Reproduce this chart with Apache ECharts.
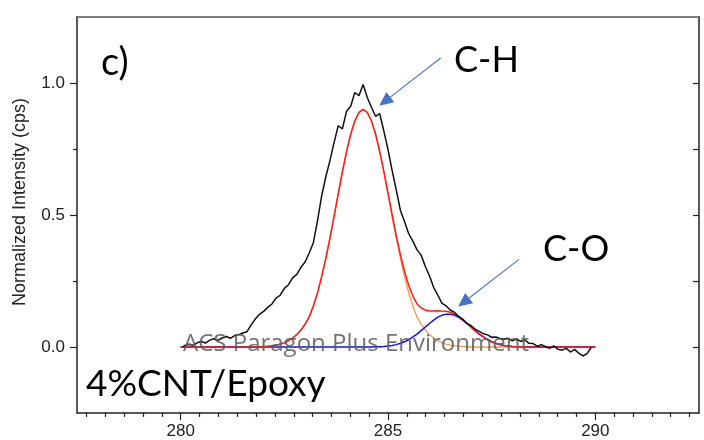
<!DOCTYPE html>
<html>
<head>
<meta charset="utf-8">
<script src="https://cdn.jsdelivr.net/npm/echarts@6/dist/echarts.min.js"></script>
<style>
  html, body { margin: 0; padding: 0; background: #fff; }
  #chart { width: 704px; height: 440px; }
</style>
</head>
<body>
<div id="chart"></div>
<script>
// C 1s region of 4%CNT/Epoxy: measured scan (binding energy, normalized counts)
const scanEnergy = [
  280.05, 280.1, 280.2, 280.3, 280.4, 280.5, 280.6, 280.7, 280.8, 280.9,
  281.0, 281.1, 281.2, 281.3, 281.4, 281.5, 281.6, 281.7, 281.8, 281.9,
  282.0, 282.1, 282.2, 282.3, 282.4, 282.5, 282.6, 282.7, 282.8, 282.9,
  283.0, 283.1, 283.2, 283.3, 283.4, 283.5, 283.6, 283.7, 283.8, 283.9,
  284.0, 284.1, 284.2, 284.3, 284.4, 284.5, 284.6, 284.7, 284.8, 284.9,
  285.0, 285.1, 285.2, 285.3, 285.4, 285.5, 285.6, 285.7, 285.8, 285.9,
  286.0, 286.1, 286.2, 286.3, 286.4, 286.5, 286.6, 286.7, 286.8, 286.9,
  287.0, 287.1, 287.2, 287.3, 287.4, 287.5, 287.6, 287.7, 287.8, 287.9,
  288.0, 288.1, 288.2, 288.3, 288.4, 288.5, 288.6, 288.7, 288.8, 288.9,
  289.0, 289.1, 289.2, 289.3, 289.4, 289.5, 289.6, 289.7, 289.8, 289.9
];
const scanIntensity = [
  0.000, 0.006, 0.011, 0.007, 0.016, 0.021, 0.015, 0.026, 0.031, 0.025,
  0.034, 0.040, 0.033, 0.043, 0.047, 0.053, 0.058, 0.084, 0.106, 0.124,
  0.135, 0.150, 0.163, 0.185, 0.196, 0.222, 0.236, 0.262, 0.275, 0.302,
  0.322, 0.356, 0.395, 0.478, 0.572, 0.645, 0.706, 0.775, 0.838, 0.826,
  0.893, 0.912, 0.964, 0.952, 0.994, 0.945, 0.908, 0.874, 0.884, 0.818,
  0.748, 0.668, 0.594, 0.517, 0.474, 0.429, 0.401, 0.368, 0.348, 0.305,
  0.270, 0.226, 0.197, 0.166, 0.156, 0.140, 0.132, 0.116, 0.106, 0.090,
  0.081, 0.068, 0.059, 0.050, 0.046, 0.037, 0.038, 0.032, 0.029, 0.033,
  0.023, 0.031, 0.021, 0.027, 0.014, 0.013, 0.003, 0.009, 0.001, -0.005,
  0.004, -0.009, -0.012, -0.005, -0.019, -0.009, -0.023, -0.034, -0.025, -0.002
];

// Peak-fit curves sampled on one shared energy grid
const fitEnergy = [
  280.0, 280.5, 281.0, 281.5, 281.8,
  282.0, 282.1, 282.2, 282.3, 282.4, 282.5, 282.6, 282.7, 282.8, 282.9,
  283.0, 283.1, 283.2, 283.3, 283.4, 283.5, 283.6, 283.7, 283.8, 283.9,
  284.0, 284.1, 284.2, 284.3, 284.4, 284.5, 284.6, 284.7, 284.8, 284.9,
  285.0, 285.1, 285.2, 285.3, 285.4, 285.5, 285.6, 285.7, 285.8, 285.9,
  286.0, 286.1, 286.2, 286.3, 286.4, 286.5, 286.6, 286.7, 286.8, 286.9,
  287.0, 287.1, 287.2, 287.3, 287.4, 287.5, 287.6, 287.7, 287.8, 287.9,
  288.0, 288.5, 289.0, 289.5, 290.0
];
const fitCH = [
  0, 0, 0, 0, 0.001,
  0.002, 0.003, 0.005, 0.007, 0.011, 0.016, 0.024, 0.034, 0.047, 0.064,
  0.086, 0.114, 0.155, 0.205, 0.266, 0.335, 0.412, 0.495, 0.580, 0.663,
  0.740, 0.806, 0.857, 0.889, 0.900, 0.889, 0.857, 0.806, 0.740, 0.663,
  0.580, 0.495, 0.412, 0.335, 0.266, 0.205, 0.155, 0.114, 0.086, 0.064,
  0.047, 0.034, 0.024, 0.016, 0.011, 0.007, 0.005, 0.003, 0.002, 0.001,
  0, 0, 0, 0, 0, 0, 0, 0, 0, 0,
  0, 0, 0, 0, 0
];
const fitCO = [
  0, 0, 0, 0, 0,
  0, 0, 0, 0, 0, 0, 0, 0, 0, 0,
  0, 0, 0, 0, 0, 0, 0, 0, 0, 0,
  0, 0, 0, 0, 0, 0, 0, 0.001, 0.001, 0.002,
  0.004, 0.006, 0.009, 0.014, 0.020, 0.028, 0.038, 0.049, 0.062, 0.076,
  0.089, 0.102, 0.113, 0.120, 0.1245, 0.1245, 0.120, 0.113, 0.102, 0.089,
  0.076, 0.062, 0.049, 0.038, 0.028, 0.020, 0.014, 0.009, 0.006, 0.004,
  0.002, 0, 0, 0, 0
];
const fitEnvelope = [
  0, 0, 0, 0, 0.001,
  0.002, 0.003, 0.005, 0.007, 0.011, 0.016, 0.024, 0.034, 0.047, 0.064,
  0.086, 0.114, 0.155, 0.205, 0.266, 0.335, 0.412, 0.495, 0.580, 0.663,
  0.740, 0.806, 0.857, 0.889, 0.900, 0.889, 0.857, 0.807, 0.741, 0.665,
  0.584, 0.501, 0.421, 0.349, 0.286, 0.233, 0.193, 0.163, 0.148, 0.140,
  0.136, 0.136, 0.137, 0.136, 0.1355, 0.1315, 0.125, 0.116, 0.104, 0.090,
  0.076, 0.062, 0.049, 0.038, 0.028, 0.020, 0.014, 0.009, 0.006, 0.004,
  0.002, 0, 0, 0, 0
];

// Axis ranges and tick labels
const energyRange = [277.5, 292.5];
const intensityRange = [-0.25, 1.25];
const energyTicks = [280, 285, 290];
const intensityTicks = [0, 0.5, 1.0];

// Peak assignments: arrow tail and head in (eV, intensity)
const peakNotes = [
  { text: 'C-H', from: [286.27, 1.095], to: [284.79, 0.914] },
  { text: 'C-O', from: [288.16, 0.332], to: [286.69, 0.153] }
];

const pairs = (xs, ys) => xs.map((x, i) => [x, ys[i]]);

const AXIS = '#222';
const tickFont = { fontSize: 17, fontFamily: 'Liberation Sans, Arial, sans-serif', color: '#222' };

const chart = echarts.init(document.getElementById('chart'), null, { renderer: 'canvas' });

const option = {
  animation: false,
  backgroundColor: '#fff',
  grid: { left: 77, top: 17, right: 5, bottom: 27, containLabel: false },
  xAxis: [
    {
      type: 'value', min: energyRange[0], max: energyRange[1], splitNumber: 3,
      axisLine: { show: true, onZero: false, lineStyle: { color: AXIS, width: 1.5 } },
      axisTick: { show: true, inside: false, length: 7, customValues: energyTicks, lineStyle: { color: AXIS, width: 1.2 } },
      minorTick: { show: true, splitNumber: 11, length: 4, lineStyle: { color: AXIS, width: 1.2 } },
      axisLabel: Object.assign({ margin: 10, customValues: energyTicks, formatter: v => String(v) }, tickFont),
      splitLine: { show: false }, minorSplitLine: { show: false }
    },
    {
      type: 'value', position: 'top', min: energyRange[0], max: energyRange[1],
      axisLine: { show: true, onZero: false, lineStyle: { color: '#555', width: 1.5 } },
      axisTick: { show: false }, axisLabel: { show: false }, splitLine: { show: false }
    }
  ],
  yAxis: [
    {
      type: 'value', min: intensityRange[0], max: intensityRange[1], splitNumber: 3,
      axisLine: { show: true, onZero: false, lineStyle: { color: AXIS, width: 1.5 } },
      axisTick: { show: true, inside: false, length: 7, customValues: intensityTicks, lineStyle: { color: AXIS, width: 1.2 } },
      minorTick: { show: true, splitNumber: 2, length: 4, lineStyle: { color: AXIS, width: 1.2 } },
      axisLabel: Object.assign({ margin: 12, customValues: intensityTicks, formatter: v => v.toFixed(1) }, tickFont),
      splitLine: { show: false }, minorSplitLine: { show: false }
    },
    {
      type: 'value', position: 'right', min: intensityRange[0], max: intensityRange[1], splitNumber: 3,
      axisLine: { show: true, onZero: false, lineStyle: { color: AXIS, width: 1.5 } },
      axisTick: { show: true, inside: true, length: 6, customValues: intensityTicks, lineStyle: { color: AXIS, width: 1.2 } },
      minorTick: { show: true, splitNumber: 2, length: 6, lineStyle: { color: AXIS, width: 1.2 } },
      axisLabel: { show: false }, splitLine: { show: false }
    }
  ],
  series: [
    {
      name: 'C-H component', type: 'line', data: pairs(fitEnergy, fitCH),
      showSymbol: false, symbol: 'none', smooth: false,
      lineStyle: { color: '#f39a45', width: 1.3 }
    },
    {
      name: 'C-O component', type: 'line', data: pairs(fitEnergy, fitCO),
      showSymbol: false, symbol: 'none', smooth: false,
      lineStyle: { color: '#1010ff', width: 1.5 }
    },
    {
      name: 'Envelope', type: 'line', data: pairs(fitEnergy, fitEnvelope),
      showSymbol: false, symbol: 'none', smooth: false,
      lineStyle: { color: '#ff1a1a', width: 1.5 }
    },
    {
      name: 'Measured', type: 'line', data: pairs(scanEnergy, scanIntensity),
      showSymbol: false, symbol: 'none', smooth: false,
      lineStyle: { color: '#111', width: 1.5 }
    }
  ]
};

chart.setOption(option);

// Annotations: panel tag, sample name, peak labels with arrows, axis title, watermark
const labelFont = 'Lato, "Open Sans", sans-serif';
const graphics = [
  {
    type: 'text', x: 20, y: 202, rotation: Math.PI / 2,
    style: { text: 'Normalized Intensity (cps)', font: '18px "Liberation Sans", Arial, sans-serif', fill: '#222', align: 'center', verticalAlign: 'middle' }
  },
  {
    type: 'text', x: 101, y: 63,
    style: { text: 'c)', font: '38px ' + labelFont, fill: '#000', align: 'left', verticalAlign: 'middle' }
  },
  {
    type: 'text', x: 86, y: 384,
    style: { text: '4%CNT/Epoxy', font: '37px ' + labelFont, fill: '#000', align: 'left', verticalAlign: 'middle' }
  },
  {
    type: 'text', x: 454, y: 60,
    style: { text: peakNotes[0].text, font: '36px ' + labelFont, fill: '#000', align: 'left', verticalAlign: 'middle' }
  },
  {
    type: 'text', x: 543, y: 249,
    style: { text: peakNotes[1].text, font: '36px ' + labelFont, fill: '#000', align: 'left', verticalAlign: 'middle' }
  }
];

peakNotes.forEach(note => {
  const s = chart.convertToPixel({ gridIndex: 0 }, note.from);
  const t = chart.convertToPixel({ gridIndex: 0 }, note.to);
  const dx = t[0] - s[0], dy = t[1] - s[1];
  const len = Math.hypot(dx, dy);
  const ux = dx / len, uy = dy / len;
  const head = 14, half = 6.5;
  const bx = t[0] - ux * head, by = t[1] - uy * head;
  graphics.push({
    type: 'line', z: 50,
    shape: { x1: s[0], y1: s[1], x2: bx, y2: by },
    style: { stroke: '#4a78c8', lineWidth: 1.2 }
  });
  graphics.push({
    type: 'polygon', z: 50,
    shape: { points: [[t[0], t[1]], [bx - uy * half, by + ux * half], [bx + uy * half, by - ux * half]] },
    style: { fill: '#4472c4' }
  });
});

graphics.push({
  type: 'text', x: 183, y: 344, z: 100,
  style: { text: 'ACS Paragon Plus Environment', font: '24px "Open Sans", sans-serif', fill: 'rgba(90,90,90,0.85)', align: 'left', verticalAlign: 'middle' }
});

chart.setOption({ graphic: { elements: graphics } });
</script>
</body>
</html>
